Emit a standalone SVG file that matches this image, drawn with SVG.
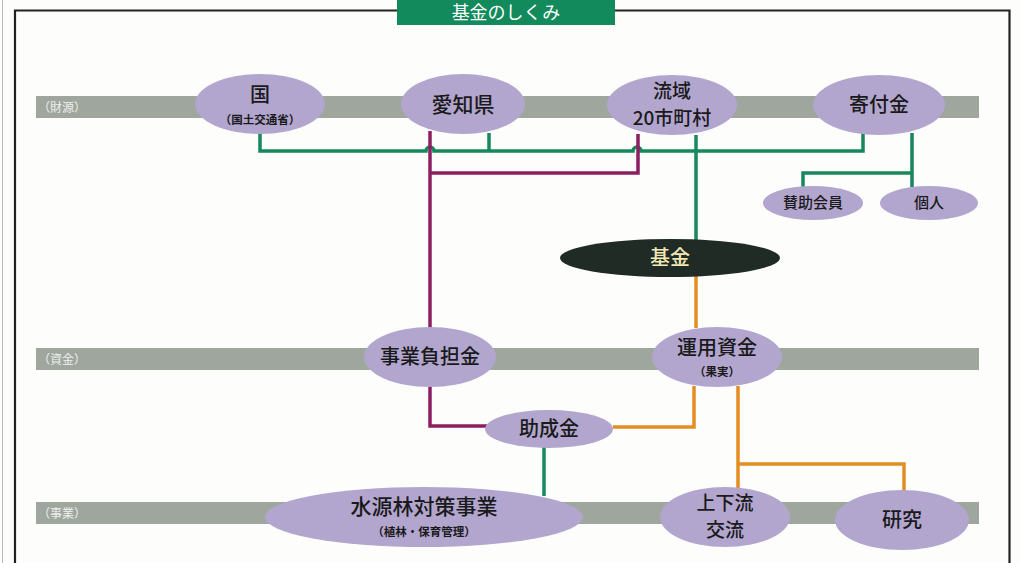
<svg xmlns="http://www.w3.org/2000/svg" width="1021" height="563" viewBox="0 0 1021 563">
<style>
.band{fill:#9ea69e}
.blabel{font-family:"Noto Sans CJK JP","Noto Sans",sans-serif;font-size:12px;fill:#eef0ee}
.node{fill:#b2a6cf}
.t{font-family:"Noto Sans CJK JP","Noto Sans",sans-serif;fill:#1a1a1a;text-anchor:middle;font-weight:500}
.big{font-size:20px}
.two{font-size:19px}
.sm{font-size:11.5px;font-weight:700}
.md{font-size:15px}
.g{stroke:#17875c;stroke-width:3.5;fill:none}
.m{stroke:#8c1f60;stroke-width:3.5;fill:none}
.o{stroke:#e48d22;stroke-width:3.5;fill:none}
</style>
<rect width="1021" height="563" fill="#fdfdfc"/>
<line x1="2.5" y1="0" x2="2.5" y2="563" stroke="#bbbbbb" stroke-width="1"/>
<path d="M15,563 V10.5 H398 M614,10.5 H1009.5 V563" fill="none" stroke="#222" stroke-width="2.2"/>
<g id="title">
<rect x="397" y="0" width="218" height="25" fill="#128a5c"/>
<text x="506" y="19" font-family="Noto Sans CJK JP, Noto Sans, sans-serif" font-size="18" fill="#ffffff" text-anchor="middle">基金のしくみ</text>
</g>
<g id="bands">
<rect class="band" x="36" y="96" width="943" height="22"/>
<rect class="band" x="36" y="348" width="943" height="22"/>
<rect class="band" x="36" y="502" width="943" height="22"/>
<text class="blabel" x="38" y="112">（財源）</text>
<text class="blabel" x="38" y="364">（資金）</text>
<text class="blabel" x="38" y="518">（事業）</text>
</g>
<g id="connectors">
<path class="g" d="M260,133 V151 H426 a4,4 0 0 1 8,0 H633 a4,4 0 0 1 8,0 H863 V133"/>
<path class="g" d="M489,133 V151"/>
<path class="g" d="M696,135 V240"/>
<path class="g" d="M912,133 V187 M912,173 H803 V187"/>
<path class="g" d="M544,447 V496"/>
<path class="m" d="M430,131 V328"/>
<path class="m" d="M430,173 H638 V134"/>
<path class="m" d="M430,386 V426 H487"/>
<path class="o" d="M696,276 V328"/>
<path class="o" d="M694,386 V427 H613"/>
<path class="o" d="M738,386 V489"/>
<path class="o" d="M738,464 H904 V492"/>
</g>
<g id="n-kuni">
<ellipse class="node" cx="260" cy="104" rx="65" ry="30"/>
<text class="t big" x="260" y="102" font-size="21">国</text>
<text class="t sm" x="260" y="124">（国土交通省）</text>
</g>
<g id="n-aichi">
<ellipse class="node" cx="463" cy="104" rx="62" ry="30"/>
<text class="t" x="463" y="112" font-size="21">愛知県</text>
</g>
<g id="n-ryuiki">
<ellipse class="node" cx="672" cy="105" rx="65" ry="30"/>
<text class="t two" x="672" y="98">流域</text>
<text class="t two" x="672" y="125">20市町村</text>
</g>
<g id="n-kifu">
<ellipse class="node" cx="879" cy="105" rx="66" ry="30"/>
<text class="t big" x="879" y="112">寄付金</text>
</g>
<g id="n-sanjo">
<ellipse class="node" cx="813" cy="203" rx="50" ry="17"/>
<text class="t md" x="813" y="208">賛助会員</text>
</g>
<g id="n-kojin">
<ellipse class="node" cx="929" cy="203" rx="49" ry="17"/>
<text class="t md" x="929" y="208">個人</text>
</g>
<g id="n-kikin">
<ellipse cx="670" cy="258" rx="110" ry="19" fill="#1f2b24"/>
<text class="t big" x="670" y="265" style="fill:#f1e8b4">基金</text>
</g>
<g id="n-jigyofutan">
<ellipse class="node" cx="430" cy="357" rx="66" ry="30"/>
<text class="t big" x="430" y="364">事業負担金</text>
</g>
<g id="n-unyo">
<ellipse class="node" cx="717" cy="357" rx="65" ry="30"/>
<text class="t big" x="717" y="355">運用資金</text>
<text class="t sm" x="717" y="376">（果実）</text>
</g>
<g id="n-josei">
<ellipse class="node" cx="549" cy="429" rx="64" ry="19"/>
<text class="t big" x="549" y="436">助成金</text>
</g>
<g id="n-suigen">
<ellipse class="node" cx="424" cy="517" rx="159" ry="30"/>
<text class="t" x="424" y="514" font-size="21">水源林対策事業</text>
<text class="t sm" x="424" y="536">（植林・保育管理）</text>
</g>
<g id="n-joge">
<ellipse class="node" cx="725" cy="517" rx="65" ry="30"/>
<text class="t two" x="725" y="510">上下流</text>
<text class="t two" x="725" y="537">交流</text>
</g>
<g id="n-kenkyu">
<ellipse class="node" cx="902" cy="520" rx="67" ry="30"/>
<text class="t big" x="902" y="527">研究</text>
</g>
</svg>
